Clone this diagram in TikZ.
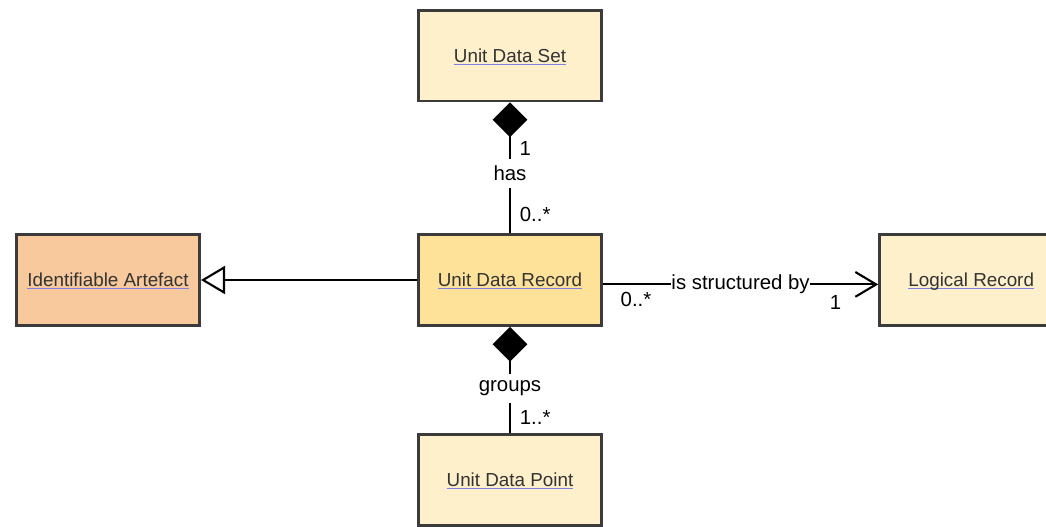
\documentclass[tikz,border=0pt]{standalone}
\usepackage{fontspec}
\setmainfont{Liberation Sans}
\usetikzlibrary{arrows.meta}
\definecolor{boxline}{HTML}{3B3B3B}
\definecolor{txt}{HTML}{333333}
\definecolor{ulblue}{HTML}{7F7FE6}
\definecolor{pale}{HTML}{FFF0CC}
\definecolor{gold}{HTML}{FFE29A}
\definecolor{peach}{HTML}{F8C99C}
\newlength{\ulwidth}
\newcommand{\ulabel}[1]{\settowidth{\ulwidth}{#1}%
    \textcolor{ulblue}{\rule[-1.7pt]{\ulwidth}{0.6pt}}\hspace{-\ulwidth}#1}
\tikzset{
    box/.style={draw=boxline, line width=2pt, minimum width=4.58cm,
                minimum height=2.27cm, inner sep=4pt, align=center,
                text=txt, text depth=0pt,
                font=\fontsize{13.4}{16}\selectfont},
    cls/.style={box, fill=pale},
    link/.style={line width=1.5pt, black},
    comp/.style={link, {Diamond[length=0.87cm, width=0.87cm]}-},
    gen/.style={link, -{Triangle[open, fill=white, length=0.6cm, width=0.7cm]}},
    nav/.style={link, -{Straight Barb[length=0.52cm, width=0.62cm]}},
    role/.style={fill=white, inner xsep=0.5pt, inner ysep=5pt,
                 font=\fontsize{14.5}{17}\selectfont},
    mult/.style={inner sep=0pt, font=\fontsize{14.5}{17}\selectfont},
}
\begin{document}
\begin{tikzpicture}

    \useasboundingbox[fill=white] (-12.75,-6.15) rectangle (13.4,7.0);

    \node[cls] (uds) at (0,5.61) {\ulabel{Unit Data Set}};
    \node[box, fill=gold] (udr) at (0,0) {\ulabel{Unit Data Record}};
    \node[cls] (udp) at (0,-5.0) {\ulabel{Unit Data Point}};
    \node[box, fill=peach] (ia) at (-10.05,0) {\ulabel{Identifiable Artefact}};
    \node[cls] (lr) at (11.53,0) {\ulabel{Logical Record}};

    \draw[comp] (uds.south) -- (udr.north)
        node[role, pos=0.54] {has}
        node[mult, pos=0.35, xshift=0.38cm] {1}
        node[mult, pos=0.86, xshift=0.63cm] {0..*};
    \draw[comp] (udr.south) -- (udp.north)
        node[role, pos=0.58] {groups}
        node[mult, pos=0.85, xshift=0.63cm] {1..*};
    \draw[gen] (udr.west) -- (ia.east);
    \draw[nav] ([yshift=-0.11cm]udr.east) -- ([yshift=-0.11cm]lr.west)
        node[role, pos=0.5] {is structured by}
        node[mult, pos=0.12, yshift=-0.38cm] {0..*}
        node[mult, pos=0.845, yshift=-0.45cm] {1};

\end{tikzpicture}
\end{document}
